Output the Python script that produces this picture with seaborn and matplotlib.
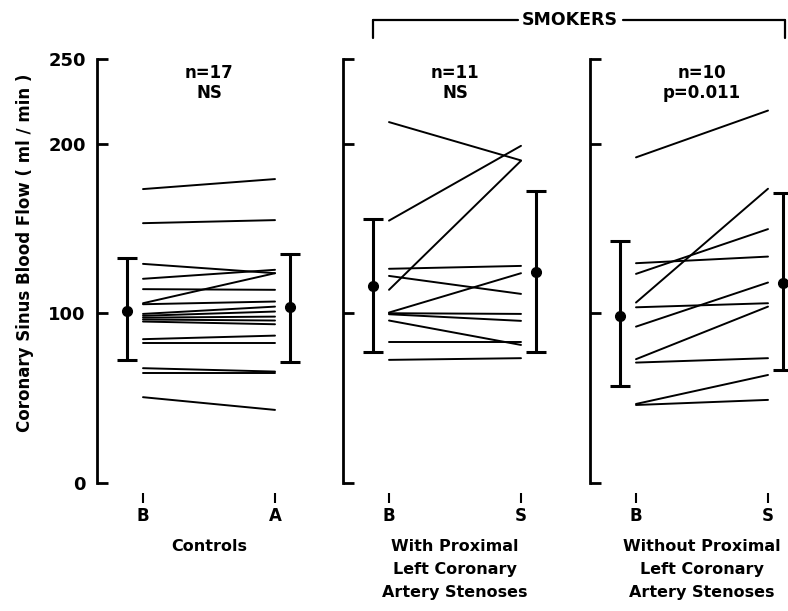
import numpy as np
import pandas as pd
import matplotlib
matplotlib.use("Agg")
import matplotlib.pyplot as plt
from matplotlib.lines import Line2D
import seaborn as sns

sns.set_style("ticks", {"axes.edgecolor": "black", "text.color": "black",
                        "xtick.color": "black", "ytick.color": "black"})
plt.rcParams['font.family'] = ['DejaVu Sans']
plt.rcParams['font.weight'] = 'bold'
plt.rcParams['text.color'] = 'black'

# ---- data ----
ctrl_B = [173.3, 153.2, 129.2, 120.4, 114.3, 106.0, 105.4, 99.7, 98.6, 97.5, 96.4, 95.2, 84.8, 82.4, 67.7, 64.7, 50.6]
ctrl_A = [179.2, 155.0, 123.7, 125.7, 113.9, 123.7, 107.0, 104.0, 101.1, 98.1, 95.8, 93.6, 86.9, 82.4, 65.7, 64.7, 43.1]
with_B = [212.8, 154.7, 113.9, 126.3, 122.1, 100.5, 100.1, 99.5, 95.8, 83.4, 72.6]
with_S = [190.2, 198.8, 190.0, 128.0, 111.5, 123.7, 99.7, 95.6, 81.4, 83.4, 73.6]
wo_B = [192.0, 129.6, 123.3, 106.4, 103.6, 92.2, 73.0, 71.0, 46.6, 46.0]
wo_S = [219.6, 133.5, 149.7, 173.5, 106.0, 118.2, 104.0, 73.6, 63.7, 49.0]

# mean, low, high for before / after
ctrl_stats = [(101.7, 72.6, 132.9), (104.0, 71.2, 135.1)]
with_stats = [(116.2, 77.5, 155.6), (124.7, 77.5, 172.3)]
wo_stats = [(98.5, 57.2, 142.4), (118.2, 66.7, 170.9)]

tick_labels = [["B", "A"], ["B", "S"], ["B", "S"]]
titles = ["n=17\nNS", "n=11\nNS", "n=10\np=0.011"]
groups = ["Controls", "With Proximal\nLeft Coronary\nArtery Stenoses",
          "Without Proximal\nLeft Coronary\nArtery Stenoses"]
yticks = [0, 100, 200, 250]

panels = [(ctrl_B, ctrl_A, ctrl_stats), (with_B, with_S, with_stats), (wo_B, wo_S, wo_stats)]

W, H = 788, 611
fig = plt.figure(figsize=(W / 100, H / 100), dpi=100)
lefts = [97, 343, 590]
axw = 200
ybot, ytop = 483, 59
xl = (-46 / 132, (axw - 46) / 132)

for i, (bv, sv, st) in enumerate(panels):
    ax = fig.add_axes([lefts[i] / W, (H - ybot) / H, axw / W, (ybot - ytop) / H])
    n = len(bv)
    df = pd.DataFrame({
        "x": [0] * n + [1] * n,
        "v": list(bv) + list(sv),
        "id": list(range(n)) * 2,
    })
    sns.lineplot(data=df, x="x", y="v", units="id", estimator=None,
                 color="black", lw=1.4, ax=ax, legend=False)
    xs = [-0.125, 1.115]
    for xe, (m, lo, hi) in zip(xs, st):
        ax.errorbar([xe], [m], yerr=[[m - lo], [hi - m]], fmt="o", color="black",
                    ms=7, elinewidth=2.2, capsize=7, capthick=2.2, clip_on=False, zorder=5)
    ax.set_xlim(*xl)
    ax.set_ylim(0, 250)
    ax.set_xlabel("")
    ax.set_ylabel("")
    for s in ["top", "right"]:
        ax.spines[s].set_visible(False)
    ax.spines["left"].set_linewidth(2)
    ax.spines["left"].set_color("black")
    ax.spines["bottom"].set_position(("outward", 7))
    ax.spines["bottom"].set_visible(False)
    ax.set_yticks(yticks)
    ax.tick_params(axis="y", direction="in", length=8, width=2, labelsize=13, pad=8,
                   color="black", labelcolor="black")
    if i > 0:
        ax.set_yticklabels([])
    ax.set_xticks([0, 1])
    ax.set_xticklabels(tick_labels[i], fontsize=12, fontweight="bold")
    ax.tick_params(axis="x", direction="out", length=7, width=1.5, pad=3,
                   color="black", labelcolor="black")
    for lab in ax.get_yticklabels():
        lab.set_fontweight("bold")
    cx = (lefts[i] + 46 + 66) / W
    fig.text(cx, 1 - 64 / H, titles[i], ha="center", va="top", fontsize=12,
             fontweight="bold", linespacing=1.15, color="black")
    fig.text(cx, 1 - 539 / H, groups[i], ha="center", va="top", fontsize=11.5,
             fontweight="bold", linespacing=1.65, color="black")

fig.text(25 / W, 1 - 253 / H, "Coronary Sinus Blood Flow ( ml / min )", rotation=90,
         ha="center", va="center", fontsize=12, fontweight="bold", color="black")

# SMOKERS bracket
yb = 1 - 20 / H
yd = 1 - 38 / H
fig.add_artist(Line2D([373 / W, 518 / W], [yb, yb], color="black", lw=1.6))
fig.add_artist(Line2D([623 / W, 785 / W], [yb, yb], color="black", lw=1.6))
fig.add_artist(Line2D([373 / W, 373 / W], [yb, yd], color="black", lw=1.6))
fig.add_artist(Line2D([785 / W, 785 / W], [yb, yd], color="black", lw=1.6))
fig.text(570 / W, yb, "SMOKERS", ha="center", va="center", fontsize=12.5,
         fontweight="bold", color="black")

fig.savefig("out.png", dpi=100)
